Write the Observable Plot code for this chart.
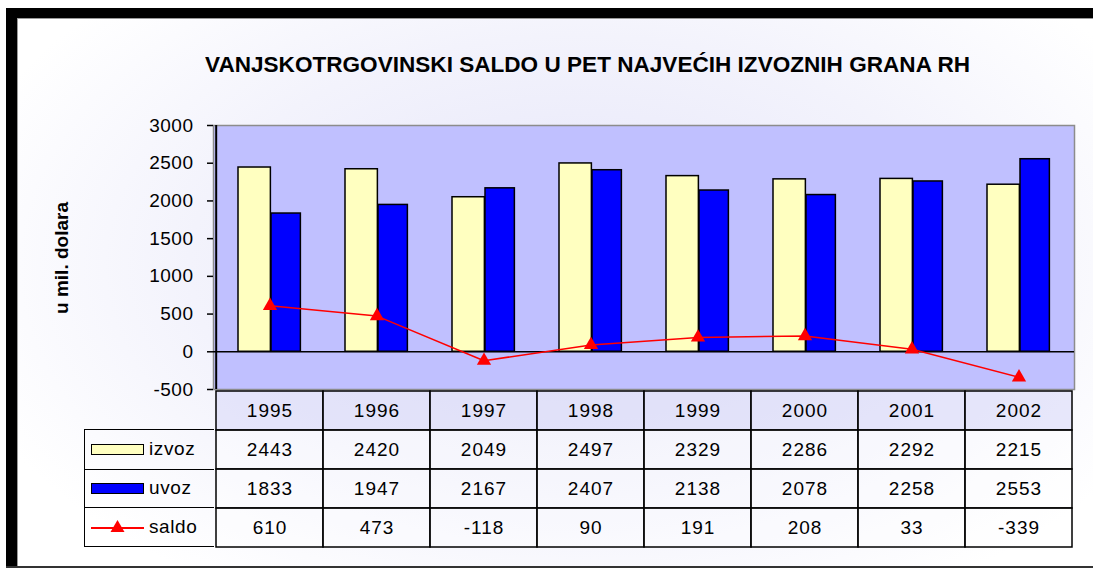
<!DOCTYPE html>
<html>
<head>
<meta charset="utf-8">
<script src="https://cdn.jsdelivr.net/npm/d3@7"></script>
<script src="https://cdn.jsdelivr.net/npm/@observablehq/plot@0.6"></script>
<style>
  html, body { margin: 0; padding: 0; background: #fff; }
  #wrap { position: relative; width: 1093px; height: 571px; overflow: hidden; background: #fff;
          font-family: "Liberation Sans", Arial, sans-serif; color: #000; }
  #black { position: absolute; left: 6px; top: 8px; width: 1087px; height: 560px; background: #000; }
  #inner { position: absolute; left: 17px; top: 18px; width: 1076px; height: 549px;
           border-top: 1px solid #9a9a9a; border-left: 1px solid #9a9a9a; box-sizing: border-box;
           background: radial-gradient(ellipse 60% 70% at 52% 45%, #e4e4f9 0%, #f3f3fc 60%, #ffffff 100%); }
  #bottomline { position: absolute; left: 6px; top: 566px; width: 1087px; height: 2px; background: #333; }
  #title { position: absolute; left: 205px; top: 52px; font-weight: bold; font-size: 19px; white-space: nowrap;
           transform-origin: 0 0; }
  #ylabel { position: absolute; left: 62px; top: 258px; font-weight: bold; font-size: 19px; white-space: nowrap;
            transform: translate(-50%, -50%) rotate(-90deg); }
  #chart, #table { position: absolute; left: 0; }
  #chart { top: 0; }
  #table { top: 390px; }
  #legend { position: absolute; left: 84px; top: 429px; width: 130px; height: 118px; box-sizing: border-box;
            border-left: 1.5px solid #000; border-top: 1.5px solid #000; border-bottom: 1.5px solid #000; }
  .lrow { height: 33.333%; display: flex; align-items: center; box-sizing: border-box; font-size: 19px; }
  .lrow + .lrow { border-top: 1.5px solid #000; }
  .sw { width: 53px; height: 11px; margin-left: 6px; box-sizing: border-box; border: 1.5px solid #000; }
  .lbl { margin-left: 5px; letter-spacing: 0.6px; }
</style>
</head>
<body>
<div id="wrap">
  <div id="black"></div>
  <div id="inner"></div>
  <div id="bottomline"></div>
  <div id="chart"></div>
  <div id="table"></div>
  <div id="legend"></div>
  <div id="title"></div>
  <div id="ylabel"></div>
</div>
<script>
// ---- data ----
const years = ["1995", "1996", "1997", "1998", "1999", "2000", "2001", "2002"];
const izvoz = [2443, 2420, 2049, 2497, 2329, 2286, 2292, 2215];
const uvoz  = [1833, 1947, 2167, 2407, 2138, 2078, 2258, 2553];
const saldo = [610, 473, -118, 90, 191, 208, 33, -339];
const yTicks = [-500, 0, 500, 1000, 1500, 2000, 2500, 3000];
const seriesNames = ["izvoz", "uvoz", "saldo"];
const titleText = "VANJSKOTRGOVINSKI SALDO U PET NAJVEĆIH IZVOZNIH GRANA RH";
const yLabelText = "u mil. dolara";

// ---- style ----
const colors = { izvoz: "#ffffc0", uvoz: "#0000ff", saldo: "#ff0000" };
const font = "'Liberation Sans', Arial, sans-serif";

const data = years.map((year, i) => ({ year, izvoz: izvoz[i], uvoz: uvoz[i], saldo: saldo[i] }));

document.getElementById("title").textContent = titleText;
document.getElementById("ylabel").textContent = yLabelText;

const plotW = 1093, mL = 213, mR = 19;
const band = (plotW - mL - mR) / years.length;

// ---- chart ----
const chart = Plot.plot({
  width: plotW, height: 571,
  marginLeft: mL, marginRight: mR, marginTop: 125, marginBottom: 182,
  x: { type: "band", domain: years, padding: 0, axis: null },
  y: { domain: [-500, 3000], axis: null },
  style: { background: "transparent", fontFamily: font, fontSize: "19px", color: "#000", overflow: "visible", letterSpacing: "0.5px" },
  marks: [
    Plot.frame({ fill: "#c0c0ff", stroke: "#8c8c8c", strokeWidth: 1.5 }),
    Plot.barY(data, { x: "year", y: "izvoz", fill: colors.izvoz, stroke: "#000", strokeWidth: 1.5, insetLeft: 22, insetRight: band - 55 }),
    Plot.barY(data, { x: "year", y: "uvoz", fill: colors.uvoz, stroke: "#000", strokeWidth: 1.5, insetLeft: 55, insetRight: band - 85 }),
    Plot.ruleY([0], { stroke: "#000", strokeWidth: 1.5 }),
    Plot.ruleX([years[0]], { x: d => d, dx: -band / 2, y1: -500, y2: 3000, stroke: "#000", strokeWidth: 2 }),
    Plot.axisY({ ticks: yTicks, tickSize: 6, tickPadding: 14, label: null, tickFormat: d => String(d), fontSize: 19, strokeWidth: 1.5 }),
    Plot.line(data, { x: "year", y: "saldo", stroke: colors.saldo, strokeWidth: 1.5 }),
    Plot.dot(data, { x: "year", y: "saldo", symbol: "triangle", fill: colors.saldo, r: 5.3 })
  ]
});
document.getElementById("chart").append(chart);

// ---- table ----
const rows = ["header", ...seriesNames];
const seriesVals = { izvoz, uvoz, saldo };
const cells = [];
years.forEach((year, i) => {
  cells.push({ year, row: "header", label: year });
  seriesNames.forEach(s => cells.push({ year, row: s, label: String(seriesVals[s][i]) }));
});
const table = Plot.plot({
  width: plotW, height: 157,
  marginLeft: mL, marginRight: mR, marginTop: 0, marginBottom: 0,
  x: { type: "band", domain: years, padding: 0, axis: null },
  y: { type: "band", domain: rows, padding: 0, axis: null },
  color: { type: "identity" },
  style: { background: "transparent", fontFamily: font, fontSize: "19px", color: "#000", overflow: "visible", letterSpacing: "1px" },
  marks: [
    Plot.cell(cells, { x: "year", y: "row", inset: 0, fill: d => d.row === "header" ? "rgba(215,215,248,0.55)" : "rgba(255,255,255,0.35)", stroke: "#000", strokeWidth: 1.5 }),
    Plot.text(cells, { x: "year", y: "row", text: "label", fontSize: 19, fill: "#000" })
  ]
});
document.getElementById("table").append(table);

// ---- legend column ----
const legend = document.getElementById("legend");
seriesNames.forEach(s => {
  const row = document.createElement("div");
  row.className = "lrow";
  let sw;
  if (s === "saldo") {
    sw = document.createElementNS("http://www.w3.org/2000/svg", "svg");
    sw.setAttribute("width", "53"); sw.setAttribute("height", "16");
    sw.style.marginLeft = "6px";
    sw.innerHTML = `<line x1="0" y1="9" x2="53" y2="9" stroke="${colors.saldo}" stroke-width="2"/>` +
                   `<path d="M26.5,1 L33.5,13 L19.5,13 Z" fill="${colors.saldo}"/>`;
  } else {
    sw = document.createElement("div");
    sw.className = "sw";
    sw.style.background = colors[s];
  }
  const lbl = document.createElement("span");
  lbl.className = "lbl";
  lbl.textContent = s;
  row.append(sw, lbl);
  legend.append(row);
});

// fit title width
const t = document.getElementById("title");
const w = t.getBoundingClientRect().width;
t.style.transform = `scale(${765 / w}, 1.15)`;
</script>
</body>
</html>
